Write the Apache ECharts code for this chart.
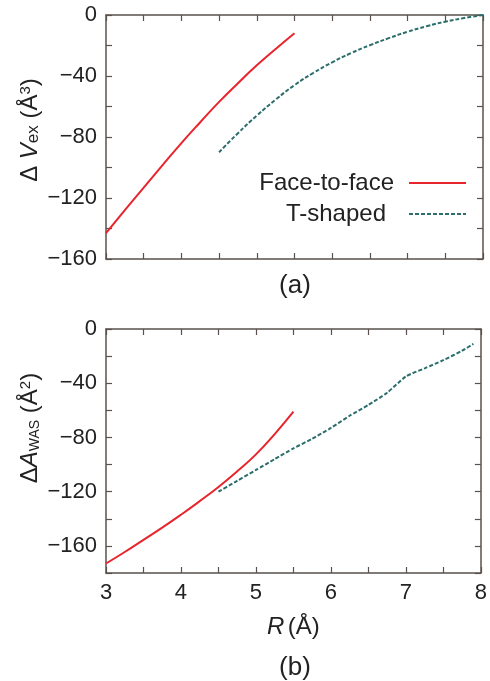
<!DOCTYPE html>
<html>
<head>
<meta charset="utf-8">
<script src="https://cdn.jsdelivr.net/npm/echarts@6/dist/echarts.min.js"></script>
<style>html,body{margin:0;padding:0;background:#fff;}#c{width:490px;height:681px;}</style>
</head>
<body>
<div id="c"></div>
<script>
// ---- data ----
const ffVexR   = [3.0, 3.25, 3.5, 3.75, 4.0, 4.25, 4.5, 4.75, 5.0, 5.25, 5.5];
const ffVex    = [-143, -128, -113.2, -98.5, -84, -70.3, -57, -44.7, -33, -22.3, -12];
const tsVexR   = [4.5, 4.75, 5.0, 5.25, 5.5, 5.75, 6.0, 6.25, 6.5, 6.75, 7.0, 7.25, 7.5, 7.75, 8.0];
const tsVex    = [-90, -77.5, -66, -55.5, -46, -38, -31, -25, -19.8, -15.2, -11, -7.4, -4.4, -2, 0];
const ffAwasR  = [3.0, 3.25, 3.5, 3.75, 4.0, 4.25, 4.5, 4.75, 5.0, 5.25, 5.5];
const ffAwas   = [-173, -164.5, -155.5, -146.5, -137, -127, -116.5, -105, -92.5, -77.5, -61];
const tsAwasR  = [4.5, 4.75, 5.0, 5.25, 5.5, 5.75, 6.0, 6.25, 6.5, 6.75, 7.0, 7.25, 7.5, 7.75, 7.9];
const tsAwas   = [-120, -112, -104, -96, -88, -81, -73, -64, -56, -47, -35, -29, -23, -16, -11];
const seriesNames = ['Face-to-face', 'T-shaped'];
const panelLabels = ['(a)', '(b)'];

const pairs = (xs, ys) => xs.map((x, i) => [x, ys[i]]);

const FONT = 'Liberation Sans';
const AX = '#5a514d';
const RED = '#e8242c';
const TEAL = '#2b6e6c';

function xAx(grid, pos, labels) {
  return {
    type: 'value', gridIndex: grid, position: pos, min: 3, max: 8, interval: 0.5,
    axisLine: { show: true, onZero: false, lineStyle: { color: AX, width: 1.5 } },
    axisTick: { show: true, inside: true, length: 6, lineStyle: { color: AX, width: 1.2 } },
    axisLabel: {
      show: labels, margin: 9, fontFamily: FONT, fontSize: 22, color: '#222',
      formatter: v => (Math.abs(v - Math.round(v)) < 1e-9 ? String(v) : '')
    },
    splitLine: { show: false }
  };
}
function yAx(grid, pos, labels, min) {
  return {
    type: 'value', gridIndex: grid, position: pos, min: min, max: 0, interval: 20,
    axisLine: { show: true, onZero: false, lineStyle: { color: AX, width: 1.5 } },
    axisTick: { show: true, inside: true, length: 6, lineStyle: { color: AX, width: 1.2 } },
    axisLabel: {
      show: labels, margin: 9, fontFamily: FONT, fontSize: 22, color: '#222',
      formatter: v => (v % 40 === 0 ? String(v).replace('-', '\u2212') : '')
    },
    splitLine: { show: false }
  };
}
const hiddenSym = { color: 'rgba(0,0,0,0)', borderColor: 'rgba(0,0,0,0)', borderWidth: 0, opacity: 0 };

const chart = echarts.init(document.getElementById('c'), null, { renderer: 'canvas' });
const option = {
  backgroundColor: '#ffffff',
  animation: false,
  grid: [
    { left: 106, top: 15, width: 377, height: 244 },
    { left: 106, top: 329, width: 377, height: 244 }
  ],
  xAxis: [
    xAx(0, 'bottom', false), xAx(0, 'top', false),
    Object.assign(xAx(1, 'bottom', true), {
      name: '{i|R} {n|(Å)}', nameLocation: 'middle', nameGap: 42,
      nameTextStyle: { rich: {
        i: { fontFamily: FONT, fontSize: 24, fontStyle: 'italic', color: '#222' },
        n: { fontFamily: FONT, fontSize: 24, color: '#222' }
      } }
    }),
    xAx(1, 'top', false)
  ],
  yAxis: [
    yAx(0, 'left', true, -160), yAx(0, 'right', false, -160),
    yAx(1, 'left', true, -180), yAx(1, 'right', false, -180)
  ],
  legend: [
    { data: [seriesNames[0]], right: 23, top: 171, padding: 0, align: 'right', itemWidth: 57, itemHeight: 14,
      itemStyle: hiddenSym,
      textStyle: { fontFamily: FONT, fontSize: 24, color: '#222', padding: [0, 10, 0, 0] } },
    { data: [seriesNames[1]], right: 23, top: 202, padding: 0, align: 'right', itemWidth: 57, itemHeight: 14,
      itemStyle: hiddenSym,
      textStyle: { fontFamily: FONT, fontSize: 24, color: '#222', padding: [0, 18, 0, 0] } }
  ],
  series: [
    { name: seriesNames[0], type: 'line', xAxisIndex: 0, yAxisIndex: 0, data: pairs(ffVexR, ffVex),
      smooth: true, symbol: 'none', lineStyle: { color: RED, width: 2 }, itemStyle: { color: RED } },
    { name: seriesNames[1], type: 'line', xAxisIndex: 0, yAxisIndex: 0, data: pairs(tsVexR, tsVex),
      smooth: true, symbol: 'none', lineStyle: { color: TEAL, width: 2, type: [4, 2] }, itemStyle: { color: TEAL } },
    { name: seriesNames[0], type: 'line', xAxisIndex: 2, yAxisIndex: 2, data: pairs(ffAwasR, ffAwas),
      smooth: true, symbol: 'none', lineStyle: { color: RED, width: 2 }, itemStyle: { color: RED } },
    { name: seriesNames[1], type: 'line', xAxisIndex: 2, yAxisIndex: 2, data: pairs(tsAwasR, tsAwas),
      smooth: 0.2, symbol: 'none', lineStyle: { color: TEAL, width: 2, type: [4, 2] }, itemStyle: { color: TEAL } }
  ],
  graphic: [
    { type: 'text', x: 30, y: 130, rotation: Math.PI / 2,
      style: { text: '{n|Δ }{i|V}{s|ex}{n| (Å}{p|3}{n|)}', align: 'center', verticalAlign: 'middle',
        rich: {
          n: { fontFamily: FONT, fontSize: 24, fill: '#222' },
          i: { fontFamily: FONT, fontSize: 24, fontStyle: 'italic', fill: '#222' },
          s: { fontFamily: FONT, fontSize: 17, fill: '#222', verticalAlign: 'bottom' },
          p: { fontFamily: FONT, fontSize: 15, fill: '#222', verticalAlign: 'top' }
        } } },
    { type: 'text', x: 30, y: 428, rotation: Math.PI / 2,
      style: { text: '{n|Δ}{i|A}{s|WAS}{n| (Å}{p|2}{n|)}', align: 'center', verticalAlign: 'middle',
        rich: {
          n: { fontFamily: FONT, fontSize: 24, fill: '#222' },
          i: { fontFamily: FONT, fontSize: 24, fontStyle: 'italic', fill: '#222' },
          s: { fontFamily: FONT, fontSize: 14, fill: '#222', verticalAlign: 'bottom' },
          p: { fontFamily: FONT, fontSize: 15, fill: '#222', verticalAlign: 'top' }
        } } },
    { type: 'text', x: 295, y: 286,
      style: { text: panelLabels[0], fontFamily: FONT, fontSize: 26, fill: '#222', align: 'center', verticalAlign: 'middle' } },
    { type: 'text', x: 295, y: 668,
      style: { text: panelLabels[1], fontFamily: FONT, fontSize: 26, fill: '#222', align: 'center', verticalAlign: 'middle' } }
  ]
};
chart.setOption(option);
</script>
</body>
</html>
